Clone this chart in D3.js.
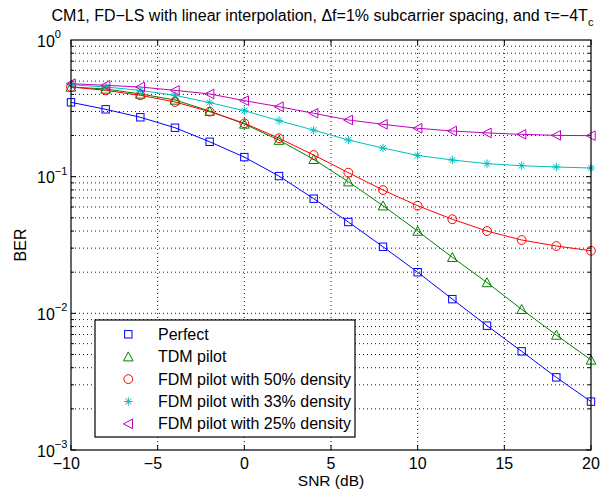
<!DOCTYPE html>
<html>
<head>
<meta charset="utf-8">
<script src="https://cdn.jsdelivr.net/npm/d3@7"></script>
<style>
  html, body { margin: 0; padding: 0; background: #fff; }
  svg { display: block; font-family: "Liberation Sans", Arial, Helvetica, sans-serif; }
</style>
</head>
<body>
<svg id="chart" width="603" height="493"></svg>
<script>
// ---------------- data ----------------
const snr = [-10, -8, -6, -4, -2, 0, 2, 4, 6, 8, 10, 12, 14, 16, 18, 20];
const berPerfect = [0.350, 0.311, 0.272, 0.228, 0.180, 0.139, 0.101, 0.069, 0.0466, 0.0307, 0.0200, 0.0127, 0.00812, 0.00527, 0.00340, 0.00226];
const berTDM     = [0.453, 0.438, 0.403, 0.364, 0.302, 0.243, 0.185, 0.134, 0.0919, 0.0613, 0.0400, 0.0257, 0.0168, 0.0107, 0.00694, 0.00456];
const berFDM50   = [0.453, 0.428, 0.394, 0.352, 0.299, 0.246, 0.191, 0.144, 0.107, 0.0798, 0.0613, 0.0488, 0.0400, 0.0344, 0.0311, 0.0287];
const berFDM33   = [0.471, 0.453, 0.428, 0.394, 0.348, 0.304, 0.257, 0.219, 0.1854, 0.162, 0.143, 0.1324, 0.1245, 0.1203, 0.1177, 0.1157];
const berFDM25   = [0.479, 0.466, 0.453, 0.428, 0.403, 0.360, 0.325, 0.291, 0.260, 0.2416, 0.226, 0.216, 0.209, 0.204, 0.2006, 0.1995];
const seriesNames = ["Perfect", "TDM pilot", "FDM pilot with 50% density", "FDM pilot with 33% density", "FDM pilot with 25% density"];
const seriesColors = ["#0000ff", "#008000", "#ff0000", "#00bfbf", "#bf00bf"];
const seriesMarkers = ["square", "triangleUp", "circle", "star", "triangleLeft"];
const xTicks = [-10, -5, 0, 5, 10, 15, 20];
const yDecades = [-3, -2, -1, 0];

const series = [berPerfect, berTDM, berFDM50, berFDM33, berFDM25].map((v, i) => ({
  name: seriesNames[i], color: seriesColors[i], marker: seriesMarkers[i],
  values: snr.map((s, j) => ({ x: s, y: v[j] }))
}));

// ---------------- layout ----------------
const svg = d3.select("#chart");
const L = 71, R = 591, T = 40, B = 450;
const FS = 16;
const x = d3.scaleLinear().domain([-10, 20]).range([L, R]);
const y = d3.scaleLog().domain([1e-3, 1]).range([B, T]);

svg.append("rect").attr("width", 603).attr("height", 493).attr("fill", "#fff");

// grid
const grid = svg.append("g").attr("stroke", "#000").attr("stroke-width", 0.9)
  .attr("stroke-dasharray", "1,3").attr("fill", "none");
xTicks.slice(1, -1).forEach(t => {
  grid.append("line").attr("x1", x(t)).attr("x2", x(t)).attr("y1", B).attr("y2", T);
});
const yMinor = [];
yDecades.slice(0, -1).forEach(d => {
  for (let k = 1; k <= 9; k++) yMinor.push(k * Math.pow(10, d));
});
yMinor.forEach(v => {
  if (v === 1e-3) return;
  grid.append("line").attr("x1", L).attr("x2", R).attr("y1", y(v)).attr("y2", y(v));
});

// ticks
const ticks = svg.append("g").attr("stroke", "#000").attr("stroke-width", 1);
xTicks.forEach(t => {
  ticks.append("line").attr("x1", x(t)).attr("x2", x(t)).attr("y1", B).attr("y2", B - 5);
  ticks.append("line").attr("x1", x(t)).attr("x2", x(t)).attr("y1", T).attr("y2", T + 5);
});
yMinor.forEach(v => {
  const isMajor = Math.abs(Math.log10(v) - Math.round(Math.log10(v))) < 1e-9;
  const len = isMajor ? 5 : 3;
  ticks.append("line").attr("x1", L).attr("x2", L + len).attr("y1", y(v)).attr("y2", y(v));
  ticks.append("line").attr("x1", R).attr("x2", R - len).attr("y1", y(v)).attr("y2", y(v));
});

// lines
const line = d3.line().x(d => x(d.x)).y(d => y(d.y));
series.forEach(s => {
  svg.append("path").datum(s.values).attr("d", line)
    .attr("fill", "none").attr("stroke", s.color).attr("stroke-width", 1);
});

// markers
function drawMarker(g, type, cx, cy, color) {
  const m = g.append("g").attr("transform", `translate(${cx},${cy})`)
    .attr("fill", "none").attr("stroke", color).attr("stroke-width", 1);
  if (type === "square") {
    m.append("rect").attr("x", -3.7).attr("y", -3.7).attr("width", 7.4).attr("height", 7.4);
  } else if (type === "circle") {
    m.append("circle").attr("r", 4.4);
  } else if (type === "triangleUp") {
    m.append("path").attr("d", "M0,-4.8L4.8,4.2L-4.8,4.2Z");
  } else if (type === "triangleLeft") {
    m.append("path").attr("d", "M-4.8,0L4.2,-4.8L4.2,4.8Z");
  } else if (type === "star") {
    const r = 4.2;
    m.append("path").attr("d",
      `M${-r},0L${r},0M0,${-r}L0,${r}M${-r*0.7},${-r*0.7}L${r*0.7},${r*0.7}M${-r*0.7},${r*0.7}L${r*0.7},${-r*0.7}`);
  }
}
const mk = svg.append("g");
series.forEach(s => {
  s.values.forEach(d => drawMarker(mk, s.marker, x(d.x), y(d.y), s.color));
});

// axes box
svg.append("rect").attr("x", L).attr("y", T).attr("width", R - L).attr("height", B - T)
  .attr("fill", "none").attr("stroke", "#000").attr("stroke-width", 1.2);

// x tick labels (digits centred on tick, minus sign hanging to the left)
const xLabY = 469;
xTicks.forEach(t => {
  const digits = svg.append("text").attr("x", x(t)).attr("y", xLabY).attr("text-anchor", "middle")
    .attr("font-size", FS).attr("fill", "#000").text(Math.abs(t));
  if (t < 0) {
    const w = digits.node().getComputedTextLength();
    svg.append("text").attr("x", x(t) - w / 2).attr("y", xLabY).attr("text-anchor", "end")
      .attr("font-size", FS).attr("fill", "#000").text("\u2212");
  }
});
// y tick labels
yDecades.forEach(d => {
  const txt = svg.append("text").attr("x", 37).attr("y", y(Math.pow(10, d)) + 6.5)
    .attr("text-anchor", "start").attr("font-size", FS).attr("fill", "#000");
  txt.append("tspan").text("10");
  txt.append("tspan").attr("dy", -8.5).attr("font-size", 11)
    .text(d === 0 ? "0" : "\u2212" + Math.abs(d));
});

// axis labels
svg.append("text").attr("x", (L + R) / 2).attr("y", 486).attr("text-anchor", "middle")
  .attr("font-size", 15.5).attr("fill", "#000").text("SNR (dB)");
svg.append("text").attr("transform", `translate(25.5,${(T + B) / 2}) rotate(-90)`)
  .attr("text-anchor", "middle").attr("font-size", FS).attr("fill", "#000").text("BER");

// title
const title = svg.append("text").attr("x", 51.5).attr("y", 21).attr("text-anchor", "start")
  .attr("font-size", FS).attr("fill", "#000");
title.append("tspan").text("CM1, FD\u2212LS with linear interpolation, \u0394f=1% subcarrier spacing, and \u03C4=\u22124T");
title.append("tspan").attr("dy", 5).attr("font-size", 11).text("c");

// legend
const lg = svg.append("g");
const lgX = 95, lgY = 320, lgW = 260, lgH = 117;
lg.append("rect").attr("x", lgX).attr("y", lgY).attr("width", lgW).attr("height", lgH)
  .attr("fill", "#fff").attr("stroke", "#000").attr("stroke-width", 1.2);
series.forEach((s, i) => {
  const cy = 334.3 + i * 22.4;
  drawMarker(lg, s.marker, 128.3, cy, s.color);
  lg.append("text").attr("x", 158).attr("y", cy + 5.5).attr("font-size", FS).attr("fill", "#000").text(s.name);
});
</script>
</body>
</html>
